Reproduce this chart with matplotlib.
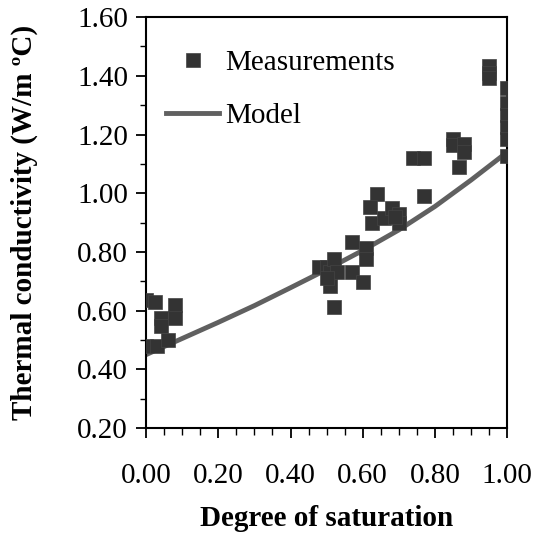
import matplotlib.pyplot as plt
from matplotlib.ticker import MultipleLocator, FormatStrFormatter

# Measured thermal conductivity vs degree of saturation
meas_x = [0.00, 0.025, 0.04, 0.04, 0.08, 0.08, 0.00, 0.03, 0.06,
          0.48, 0.50, 0.51, 0.51, 0.52, 0.52, 0.53, 0.50,
          0.57, 0.57, 0.61, 0.61, 0.60,
          0.64, 0.62, 0.625, 0.66, 0.68, 0.70, 0.70, 0.69,
          0.77, 0.74, 0.77,
          0.85, 0.85, 0.88, 0.88, 0.866,
          0.95, 0.95, 0.95,
          1.00, 1.00, 1.00, 1.00, 1.00, 1.00]
meas_y = [0.635, 0.63, 0.575, 0.548, 0.62, 0.575, 0.48, 0.48, 0.50,
          0.747, 0.75, 0.73, 0.684, 0.776, 0.611, 0.73, 0.71,
          0.833, 0.73, 0.812, 0.775, 0.697,
          0.999, 0.954, 0.898, 0.915, 0.951, 0.93, 0.90, 0.92,
          0.992, 1.12, 1.12,
          1.185, 1.165, 1.168, 1.139, 1.091,
          1.432, 1.41, 1.392,
          1.36, 1.307, 1.266, 1.225, 1.184, 1.126]

# Model curve
model_x = [0.0, 0.1, 0.2, 0.3, 0.4, 0.5, 0.6, 0.7, 0.8, 0.9, 1.0]
model_y = [0.45, 0.505, 0.56, 0.617, 0.678, 0.740, 0.805, 0.875, 0.955, 1.045, 1.14]

plt.rcParams['font.family'] = ['Liberation Serif', 'DejaVu Serif']

fig = plt.figure(figsize=(5.39, 5.36), dpi=100)
ax = fig.add_axes([0.271, 0.2015, 0.670, 0.7665])

ax.plot(meas_x, meas_y, linestyle='none', marker='s', markersize=10.5,
        color='#333333', markeredgecolor='#444444', markeredgewidth=0.5,
        label='Measurements', zorder=3)
ax.plot(model_x, model_y, color='#606060', linewidth=3.5, label='Model', zorder=2)

ax.set_xlim(0, 1.0)
ax.set_ylim(0.2, 1.6)
ax.xaxis.set_major_locator(MultipleLocator(0.2))
ax.xaxis.set_minor_locator(MultipleLocator(0.05))
ax.yaxis.set_major_locator(MultipleLocator(0.2))
ax.yaxis.set_minor_locator(MultipleLocator(0.1))
ax.xaxis.set_major_formatter(FormatStrFormatter('%.2f'))
ax.yaxis.set_major_formatter(FormatStrFormatter('%.2f'))

ax.tick_params(which='major', direction='out', length=7, width=1.3, labelsize=21)
ax.tick_params(which='minor', direction='out', length=4, width=1.0)
ax.tick_params(axis='x', which='major', pad=18)
ax.tick_params(axis='x', which='minor', length=5)
ax.tick_params(axis='y', which='major', pad=6)
ax.tick_params(top=False, right=False, which='both')
for s in ax.spines.values():
    s.set_linewidth(1.5)

ax.set_xlabel('Degree of saturation', fontsize=21, fontweight='bold', labelpad=12)
ax.set_ylabel('Thermal conductivity (W/m ºC)', fontsize=21, fontweight='bold', labelpad=28)

ax.legend(loc='upper left', frameon=False, fontsize=21, handlelength=1.8,
          handletextpad=0.2, labelspacing=0.9, borderaxespad=0.3,
          bbox_to_anchor=(0.0, 0.97))

fig.savefig('out.png', dpi=100)
